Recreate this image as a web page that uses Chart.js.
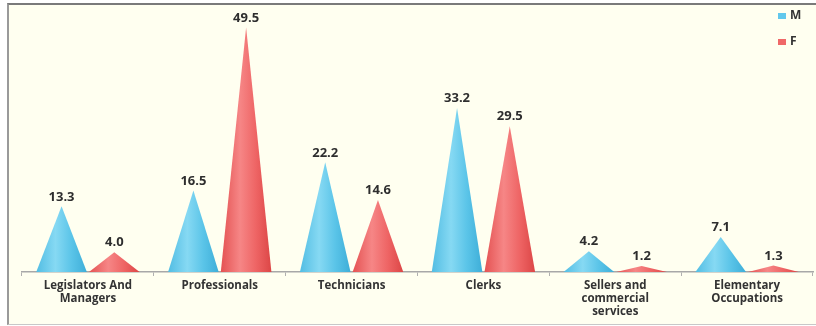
<!DOCTYPE html>
<html>
<head>
<meta charset="utf-8">
<script src="https://cdn.jsdelivr.net/npm/chart.js@4.4.1/dist/chart.umd.min.js"></script>
<style>
  html, body { margin: 0; padding: 0; background: #ffffff; }
  #wrap { position: relative; width: 816px; height: 326px; overflow: hidden; }
  #panel {
    position: absolute; left: 7px; top: 3px; width: 815px; height: 319px;
    background: #fffff0;
    border-left: 2px solid #9a9a9a;
    border-top: 2px solid #7a7a7a;
    border-bottom: 1px solid #c8c8c8;
  }
  #chart { position: absolute; left: 0; top: 0; }
</style>
</head>
<body>
<div id="wrap">
  <div id="panel"></div>
  <canvas id="chart" width="816" height="326"></canvas>
</div>
<script>
// Occupation groups (x axis)
const categories = [
  ["Legislators And", "Managers"],
  "Professionals",
  "Technicians",
  "Clerks",
  ["Sellers and", "commercial", "services"],
  ["Elementary", "Occupations"]
];
// Share (%) by sex
const maleValues   = [13.3, 16.5, 22.2, 33.2, 4.2, 7.1];
const femaleValues = [4.0, 49.5, 14.6, 29.5, 1.2, 1.3];
const seriesNames  = ["M", "F"];

const palette = {
  M: { base: "#62c8ec", stops: ["#52bde3", "#86d9f3", "#5ac4e8", "#3eaed8"] },
  F: { base: "#f06868", stops: ["#e45252", "#f68686", "#ee6464", "#dc4646"] }
};

const FONT_FAMILY = "'Open Sans', 'Liberation Sans', sans-serif";

// Draws each bar as a shaded cone and writes its value above the tip
const conePlugin = {
  id: "cones",
  beforeDatasetDraw(chart, args) {
    const ctx = chart.ctx;
    const ds = chart.data.datasets[args.index];
    const col = palette[ds.label];
    ctx.save();
    args.meta.data.forEach((bar) => {
      const p = bar.getProps(["x", "y", "base", "width"], true);
      const half = p.width / 2;
      const g = ctx.createLinearGradient(p.x - half, 0, p.x + half, 0);
      g.addColorStop(0, col.stops[0]);
      g.addColorStop(0.38, col.stops[1]);
      g.addColorStop(0.7, col.stops[2]);
      g.addColorStop(1, col.stops[3]);
      ctx.beginPath();
      ctx.moveTo(p.x - half, p.base);
      ctx.lineTo(p.x, p.y);
      ctx.lineTo(p.x + half, p.base);
      ctx.closePath();
      ctx.fillStyle = g;
      ctx.fill();
    });
    ctx.restore();
    return false;
  },
  afterDatasetsDraw(chart) {
    const ctx = chart.ctx;
    ctx.save();
    ctx.font = "bold 13px " + FONT_FAMILY;
    ctx.fillStyle = "#2e2e2e";
    ctx.textAlign = "center";
    ctx.textBaseline = "bottom";
    chart.data.datasets.forEach((ds, i) => {
      chart.getDatasetMeta(i).data.forEach((bar, j) => {
        const p = bar.getProps(["x", "y"], true);
        ctx.fillText(ds.data[j].toFixed(1), p.x, p.y - 3);
      });
    });
    ctx.restore();
  },
  afterDraw(chart) {
    // vertical legend in the top right corner
    const ctx = chart.ctx;
    ctx.save();
    ctx.font = "bold 12px " + FONT_FAMILY;
    ctx.textBaseline = "middle";
    ctx.textAlign = "left";
    chart.data.datasets.forEach((ds, i) => {
      const y = 16 + i * 26;
      ctx.fillStyle = palette[ds.label].base;
      ctx.fillRect(778, y - 3, 8, 6);
      ctx.fillStyle = "#333333";
      ctx.fillText(ds.label, 790, y);
    });
    ctx.restore();
  }
};

new Chart(document.getElementById("chart"), {
  type: "bar",
  data: {
    labels: categories,
    datasets: [
      { label: seriesNames[0], data: maleValues, backgroundColor: palette.M.base },
      { label: seriesNames[1], data: femaleValues, backgroundColor: palette.F.base }
    ]
  },
  options: {
    responsive: false,
    animation: false,
    events: [],
    categoryPercentage: 0.8,
    barPercentage: 0.96,
    layout: { padding: { top: 25, left: 22, right: 3, bottom: 0 } },
    plugins: {
      legend: { display: false },
      tooltip: { enabled: false },
      title: { display: false }
    },
    scales: {
      x: {
        grid: {
          display: true,
          drawOnChartArea: false,
          drawTicks: true,
          tickLength: 4,
          color: "#b0b0b0",
          lineWidth: 1
        },
        border: { display: true, color: "#a8a8a8", width: 1.5 },
        ticks: {
          color: "#333333",
          font: { family: FONT_FAMILY, size: 11.5, weight: "bold", lineHeight: 1.15 },
          padding: 3,
          maxRotation: 0,
          autoSkip: false
        },
        afterFit(axis) { axis.height = 54; }
      },
      y: {
        display: false,
        min: 0,
        max: 50
      }
    }
  },
  plugins: [conePlugin]
});
</script>
</body>
</html>
